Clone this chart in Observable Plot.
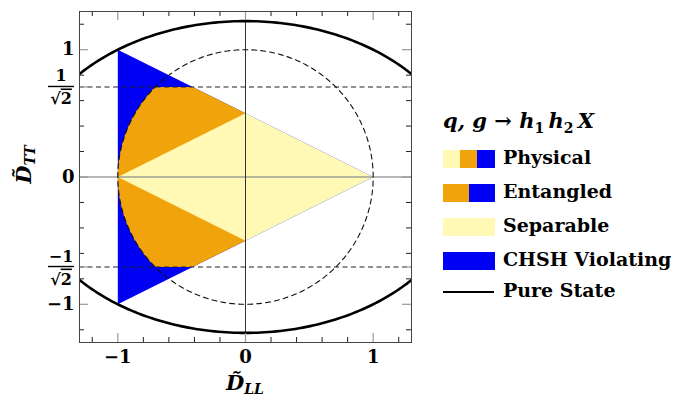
<!DOCTYPE html>
<html><head><meta charset="utf-8">
<script src="https://cdn.jsdelivr.net/npm/d3@7"></script>
<script src="https://cdn.jsdelivr.net/npm/@observablehq/plot@0.6"></script>
<style>
body{margin:0;background:#fff;}
#wrap{position:relative;width:687px;height:405px;font-family:"DejaVu Serif",serif;color:#000;}
#chart{position:absolute;left:0;top:0;}
.lg{position:absolute;font-weight:bold;font-size:19px;line-height:1;white-space:nowrap;}
.sw{position:absolute;height:18px;}
</style></head><body>
<div id="wrap"><div id="chart"></div></div>
<script>
// ---- data ----
const domainLL = [-1.3, 1.3];
const domainTT = [-1.3, 1.3];
const majorTicks = [-1, 0, 1];
const fracTicks = [-Math.SQRT1_2, Math.SQRT1_2];
const minorTicks = [-1.2, -0.8, -0.6, -0.4, -0.2, 0.2, 0.4, 0.6, 0.8, 1.2];
const physicalLL = [-1, 1, -1];
const physicalTT = [1, 0, -1];
const separableLL = [-1, 0, 1, 0];
const separableTT = [0, 0.5, 0, -0.5];
const chshRadius = [1];           // D_LL^2 + D_TT^2 = 1
const chshTT = [Math.SQRT1_2];    // |D_TT| = 1/sqrt2
const pureAxes = [Math.sqrt(3), Math.sqrt(1.5)]; // D_LL^2 + 2 D_TT^2 = 3
const colors = {separable: "#fff9b5", entangled: "#f0a30a", chsh: "#0000f5"};
const legendItems = ["Physical", "Entangled", "Separable", "CHSH Violating", "Pure State"];

// ---- geometry ----
const physical = physicalLL.map((x, i) => ({x, y: physicalTT[i]}));
const separable = separableLL.map((x, i) => ({x, y: separableTT[i]}));
const R = chshRadius[0], h = chshTT[0];
const tEdge = Math.asin(h / R);
const entangled = [];
const N = 60;
for (let i = 0; i <= N; i++) { const t = Math.PI - tEdge * i / N; entangled.push({x: R * Math.cos(t), y: R * Math.sin(t)}); }
entangled.push({x: 1 - 2 * h, y: h}, {x: 0, y: 0.5}, {x: 0, y: -0.5}, {x: 1 - 2 * h, y: -h});
for (let i = 0; i <= N; i++) { const t = Math.PI + tEdge - tEdge * i / N; entangled.push({x: R * Math.cos(t), y: R * Math.sin(t)}); }
const circle = d3.range(0, 361).map(a => ({x: R * Math.cos(a * Math.PI / 180), y: R * Math.sin(a * Math.PI / 180)}));
const ellipse = d3.range(0, 361).map(a => ({x: pureAxes[0] * Math.cos(a * Math.PI / 180), y: pureAxes[1] * Math.sin(a * Math.PI / 180)}));

const W = 430, H = 405, mL = 79, mR = 19, mT = 11, mB = 63;
const fW = W - mL - mR, fH = H - mT - mB;
const minorLen = 5, majorLen = 9;
const fmt = d => d < 0 ? "\u2212" + Math.abs(d) : String(d);

const plot = Plot.plot({
  width: W, height: H, marginLeft: mL, marginRight: mR, marginTop: mT, marginBottom: mB,
  x: {domain: domainLL}, y: {domain: domainTT},
  style: {fontFamily: "DejaVu Serif", background: "white"},
  marks: [
    Plot.line(physical, {x: "x", y: "y", fill: colors.chsh, stroke: "none"}),
    Plot.line(entangled, {x: "x", y: "y", fill: colors.entangled, stroke: "none"}),
    Plot.line(separable, {x: "x", y: "y", fill: colors.separable, stroke: "none"}),
    Plot.ruleY([0], {stroke: "#8a8a8a", strokeWidth: 1.6, strokeOpacity: 0.8}),
    Plot.ruleX([0], {stroke: "#333", strokeWidth: 1}),
    Plot.ruleY(fracTicks, {stroke: "#222", strokeWidth: 1.1, strokeDasharray: "5,3.5"}),
    Plot.line(circle, {x: "x", y: "y", stroke: "#111", strokeWidth: 1.1, strokeDasharray: "5,4"}),
    Plot.line(ellipse, {x: "x", y: "y", stroke: "#000", strokeWidth: 2.6, clip: true}),
    // inward ticks
    Plot.ruleX(minorTicks, {x: d => d, insetTop: fH - minorLen, stroke: "#222"}),
    Plot.ruleX(minorTicks, {x: d => d, insetBottom: fH - minorLen, stroke: "#222"}),
    Plot.ruleX(majorTicks, {x: d => d, insetTop: fH - majorLen, stroke: "#999", strokeWidth: 1.2}),
    Plot.ruleX(majorTicks, {x: d => d, insetBottom: fH - majorLen, stroke: "#999", strokeWidth: 1.2}),
    Plot.ruleY(minorTicks, {y: d => d, insetRight: fW - minorLen, stroke: "#222"}),
    Plot.ruleY(minorTicks, {y: d => d, insetLeft: fW - minorLen, stroke: "#222"}),
    Plot.ruleY(majorTicks.concat(fracTicks), {y: d => d, insetRight: fW - majorLen, stroke: "#999", strokeWidth: 1.2}),
    Plot.ruleY(majorTicks.concat(fracTicks), {y: d => d, insetLeft: fW - majorLen, stroke: "#999", strokeWidth: 1.2}),
    Plot.frame({stroke: "#444", strokeWidth: 1}),
    Plot.axisX(majorTicks, {tickSize: 0, tickPadding: 8, fontSize: 18, fontWeight: "bold", label: null, tickFormat: fmt}),
    Plot.axisY(majorTicks, {tickSize: 0, tickPadding: 5, fontSize: 18, fontWeight: "bold", label: null, tickFormat: fmt})
  ]
});
document.getElementById("chart").appendChild(plot);

// fraction tick labels and axis titles
const svg = d3.select(plot);
const ys = plot.scale("y"), xs = plot.scale("x");
fracTicks.forEach(v => {
  const py = ys.apply(v), cx = 61;
  const g = svg.append("g").attr("font-family", "DejaVu Serif").attr("font-weight", "bold").attr("font-size", 16).attr("fill", "#000");
  g.append("text").attr("x", cx).attr("y", py - 5).attr("text-anchor", "middle").text(v < 0 ? "\u22121" : "1");
  g.append("line").attr("x1", 48).attr("x2", 74).attr("y1", py).attr("y2", py).attr("stroke", "#000").attr("stroke-width", 1.4);
  const t = g.append("text").attr("x", cx).attr("y", py + 18).attr("text-anchor", "middle");
  t.append("tspan").text("\u221A");
  t.append("tspan").attr("text-decoration", "overline").text("2");
});
const xl = svg.append("text").attr("x", xs.apply(0)).attr("y", 390).attr("text-anchor", "middle")
  .attr("font-family", "DejaVu Serif").attr("font-weight", "bold").attr("font-style", "italic").attr("font-size", 21);
xl.append("tspan").text("D\u0303");
xl.append("tspan").attr("font-size", 14).attr("dy", 4).text("LL");
const yl = svg.append("text").attr("transform", `translate(31,${ys.apply(0) - 12}) rotate(-90)`).attr("text-anchor", "middle")
  .attr("font-family", "DejaVu Serif").attr("font-weight", "bold").attr("font-style", "italic").attr("font-size", 21);
yl.append("tspan").text("D\u0303");
yl.append("tspan").attr("font-size", 14).attr("dy", 4).text("TT");

// legend
const wrap = document.getElementById("wrap");
const title = document.createElement("div");
title.className = "lg";
title.style.cssText = "left:443px;top:110px;font-size:21px;font-style:italic;";
title.innerHTML = "q, g \u2192 h<sub style='font-size:14px;font-style:normal'>1</sub>&#8201;h<sub style='font-size:14px;font-style:normal'>2</sub>&#8201;X";
wrap.appendChild(title);
const rowY = [159, 193, 227, 261, 292];
const swatches = [
  [colors.separable, colors.entangled, colors.chsh],
  [colors.entangled, colors.chsh],
  [colors.separable],
  [colors.chsh],
  null
];
legendItems.forEach((name, i) => {
  const cy = rowY[i];
  const sw = swatches[i];
  if (sw) {
    const w = 51 / sw.length;
    sw.forEach((c, j) => {
      const d = document.createElement("div");
      d.className = "sw";
      d.style.cssText = `left:${443 + j * w}px;top:${cy - 9}px;width:${w + 0.5}px;background:${c};`;
      wrap.appendChild(d);
    });
  } else {
    const d = document.createElement("div");
    d.style.cssText = `position:absolute;left:443px;top:${cy - 1}px;width:51px;height:2px;background:#000;`;
    wrap.appendChild(d);
  }
  const t = document.createElement("div");
  t.className = "lg";
  t.style.cssText = `left:503px;top:${cy - 11}px;`;
  t.textContent = name;
  wrap.appendChild(t);
});
</script>
</body></html>
